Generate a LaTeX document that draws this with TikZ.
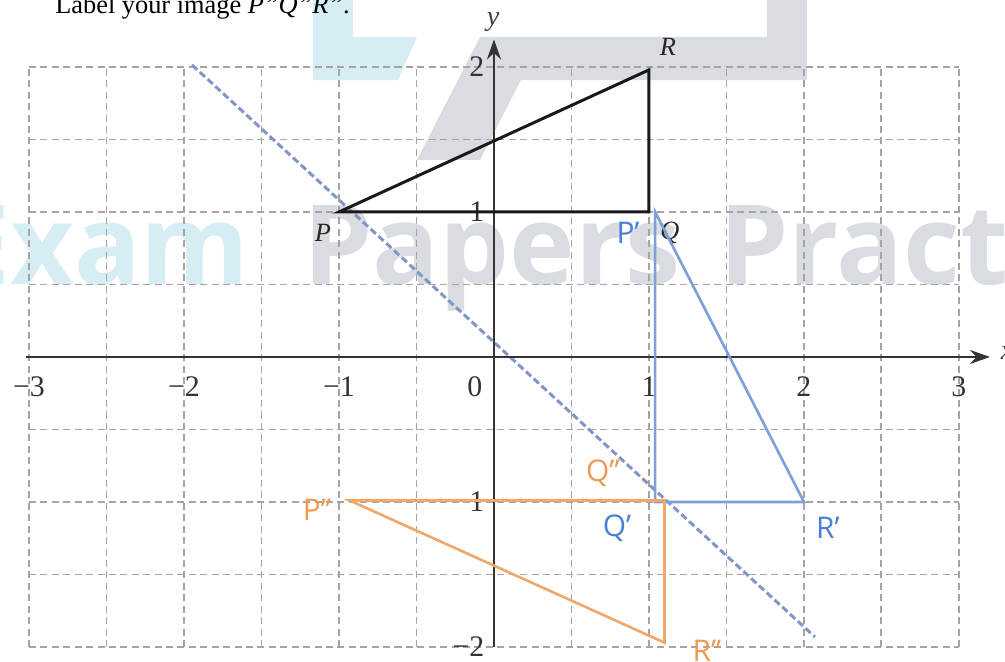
\documentclass[tikz,border=0pt]{standalone}
\usepackage{fontspec}
\setmainfont{Liberation Serif}
\newfontfamily\labelsans{Open Sans}
\newfontfamily\wmfont{Open Sans}
\usepackage{xcolor}
\usetikzlibrary{arrows.meta}

\definecolor{wmcyan}{HTML}{D6EDF4}
\definecolor{wmgray}{HTML}{D9DDE1}
\definecolor{gridgray}{HTML}{A4A4A4}
\definecolor{mirrorblue}{HTML}{8196C4}
\definecolor{imgblue}{HTML}{7E9FD8}
\definecolor{lblblue}{HTML}{4A7FD6}
\definecolor{imgorange}{HTML}{F2A76A}
\definecolor{lblorange}{HTML}{EE9A55}

\begin{document}
\begin{tikzpicture}[x=3.1cm, y=2.9cm,
  gridline/.style={draw=gridgray, line width=1.1pt, dash pattern=on 4pt off 2.5pt},
  axisline/.style={line width=1.3pt, black!80, -{Stealth[length=4mm, width=2.8mm]}},
  mirrorline/.style={mirrorblue, line width=1.7pt, dash pattern=on 4pt off 2pt},
  origtri/.style={line width=1.7pt, black!90},
  bluetri/.style={imgblue, line width=1.5pt},
  orangetri/.style={imgorange, line width=1.5pt},
  ticklbl/.style={font=\fontsize{17}{19}\selectfont, text=black!80},
  ptlbl/.style={font=\fontsize{15}{18}\selectfont\itshape, text=black!85},
  bluelbl/.style={font=\labelsans\fontsize{17}{20}\selectfont, text=lblblue, inner sep=0pt},
  orangelbl/.style={font=\labelsans\fontsize{17}{20}\selectfont, text=lblorange, inner sep=0pt},
  wmtext/.style={font=\wmfont\bfseries\fontsize{63}{70}\selectfont, inner sep=0pt, anchor=base west}
]
  \useasboundingbox (-3.187,-2.097) rectangle (3.297,2.462);

  % watermark
  \fill[wmgray] (1.761,2.462) -- (2.019,2.462) -- (2.019,1.910) -- (0.174,1.910)
    -- (-0.090,1.359) -- (-0.497,1.359) -- (-0.090,2.207) -- (1.761,2.207) -- cycle;
  \fill[wmcyan] (-1.168,2.462) -- (-0.910,2.462) -- (-0.910,2.207) -- (-0.497,2.207)
    -- (-0.619,1.910) -- (-1.168,1.910) -- cycle;
  \node[wmtext, text=wmcyan, anchor=base east] (wmexam) at (-1.574,0.497) {Exam};
  \node[wmtext, text=wmgray] (wmpapers) at (-1.232,0.497) {Papers};
  \node[wmtext, text=wmgray] (wmpract) at (1.45,0.497) {Pract};

  % grid
  \foreach \gx in {-3,-2.5,...,3}
    \draw[gridline] (\gx,-2) -- (\gx,2);
  \foreach \gy in {-2,-1.5,...,2}
    \draw[gridline] (-3,\gy) -- (3,\gy);

  % mirror line
  \coordinate (mtop) at (-1.948,2.014);
  \coordinate (mbot) at (2.071,-1.931);
  \draw[mirrorline] (mtop) -- (mbot);

  % axes
  \coordinate (xstart) at (-3.02,0);
  \coordinate (xend) at (3.2,0);
  \coordinate (ystart) at (0,-2.0);
  \coordinate (yend) at (0,2.19);
  \draw[axisline] (xstart) -- (xend);
  \draw[axisline] (ystart) -- (yend);
  \node[font=\fontsize{16}{18}\selectfont\itshape, text=black!75] (xlbl) at (3.31,0.03) {x};
  \node[font=\fontsize{16}{18}\selectfont\itshape, text=black!75] (ylbl) at (-0.006,2.31) {y};

  \foreach \v/\t [count=\k] in {-3/−3,-2/−2,-1/−1,1/1,2/2,3/3}
    \node[ticklbl] (xt\k) at (\v,-0.207) {\t};
  \node[ticklbl] (xt0) at (-0.123,-0.207) {0};
  \foreach \v/\t [count=\k] in {2/2,1/1,-1/−1,-2/−2}
    \node[ticklbl, anchor=east, inner sep=0pt] (yt\k) at (-0.06,\v) {\t};

  % object PQR
  \coordinate (P) at (-1,1);
  \coordinate (Q) at (1,1);
  \coordinate (R) at (1,1.98);
  \draw[origtri] (P) -- (Q) -- (R) -- cycle;
  \node[ptlbl] (lblP) at (-1.103,0.855) {P};
  \node[ptlbl] (lblQ) at (1.135,0.855) {Q};
  \node[ptlbl] (lblR) at (1.123,2.138) {R};

  % image P'Q'R'
  \coordinate (P1) at (1.04,1);
  \coordinate (Q1) at (1.04,-1);
  \coordinate (R1) at (2.0,-1);
  \draw[bluetri] (P1) -- (Q1) -- (R1) -- cycle;
  \node[bluelbl] (lblP1) at (0.865,0.855) {P’};
  \node[bluelbl] (lblQ1) at (0.794,-1.179) {Q’};
  \node[bluelbl] (lblR1) at (2.155,-1.179) {R’};

  % image P''Q''R''
  \coordinate (P2) at (-0.93,-0.99);
  \coordinate (Q2) at (1.10,-0.99);
  \coordinate (R2) at (1.10,-1.97);
  \draw[orangetri] (P2) -- (Q2) -- (R2) -- cycle;
  \node[orangelbl] (lblQ2) at (0.703,-0.80) {Q’’};
  \node[orangelbl] (lblP2) at (-1.142,-1.055) {P’’};
  \node[orangelbl] (lblR2) at (1.374,-2.03) {R’’};

  % question text
  \node[font=\fontsize{15}{18}\selectfont, anchor=base west, inner sep=0pt] (question)
    at (-2.832,2.372) {Label your image \textit{P"Q"R"}.};
\end{tikzpicture}
\end{document}
